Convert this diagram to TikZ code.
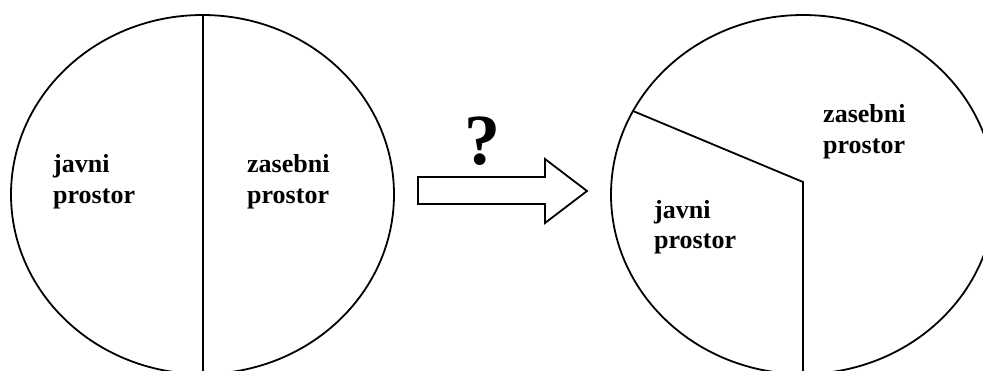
\documentclass[tikz,border=0pt]{standalone}
\usepackage{fontspec}
\setmainfont{Liberation Serif}
\begin{document}
\begin{tikzpicture}[x=1pt,y=-1pt,
  line/.style={line width=1.8pt,black},
  lbl/.style={anchor=base west,inner sep=0pt,font=\fontsize{26}{31}\selectfont\bfseries}]
\useasboundingbox (0,0) rectangle (983,370);
\clip (0,0) rectangle (983,370);
% left ellipse
\draw[line] (202.5,194.5) ellipse [x radius=191.5pt, y radius=179.5pt];
\coordinate (ltop) at (203,15);
\coordinate (lbot) at (203,372);
\draw[line] (ltop) -- (lbot);
\node[lbl] (lj) at (53,172.7) {javni};
\node[lbl] (lp) at (53,203.3) {prostor};
\node[lbl] (lz) at (247,172.7) {zasebni};
\node[lbl] (lzp) at (247,203.3) {prostor};
% arrow
\draw[line] (418,177) -- (545,177) -- (545,159) -- (587,191) -- (545,223) -- (545,204) -- (418,204) -- cycle;
\node[anchor=base,inner sep=0pt,font=\fontsize{72}{80}\selectfont\bfseries] (q) at (482,164) {?};
% right ellipse
\draw[line] (803,194.5) ellipse [x radius=192pt, y radius=179.5pt];
\coordinate (ra) at (633,111);
\coordinate (rb) at (803,182);
\coordinate (rc) at (803,372);
\draw[line] (ra) -- (rb) -- (rc);
\node[lbl] (rz) at (823,122) {zasebni};
\node[lbl] (rzp) at (823,153) {prostor};
\node[lbl] (rj) at (654,218) {javni};
\node[lbl] (rjp) at (654,248) {prostor};
\end{tikzpicture}
\end{document}
